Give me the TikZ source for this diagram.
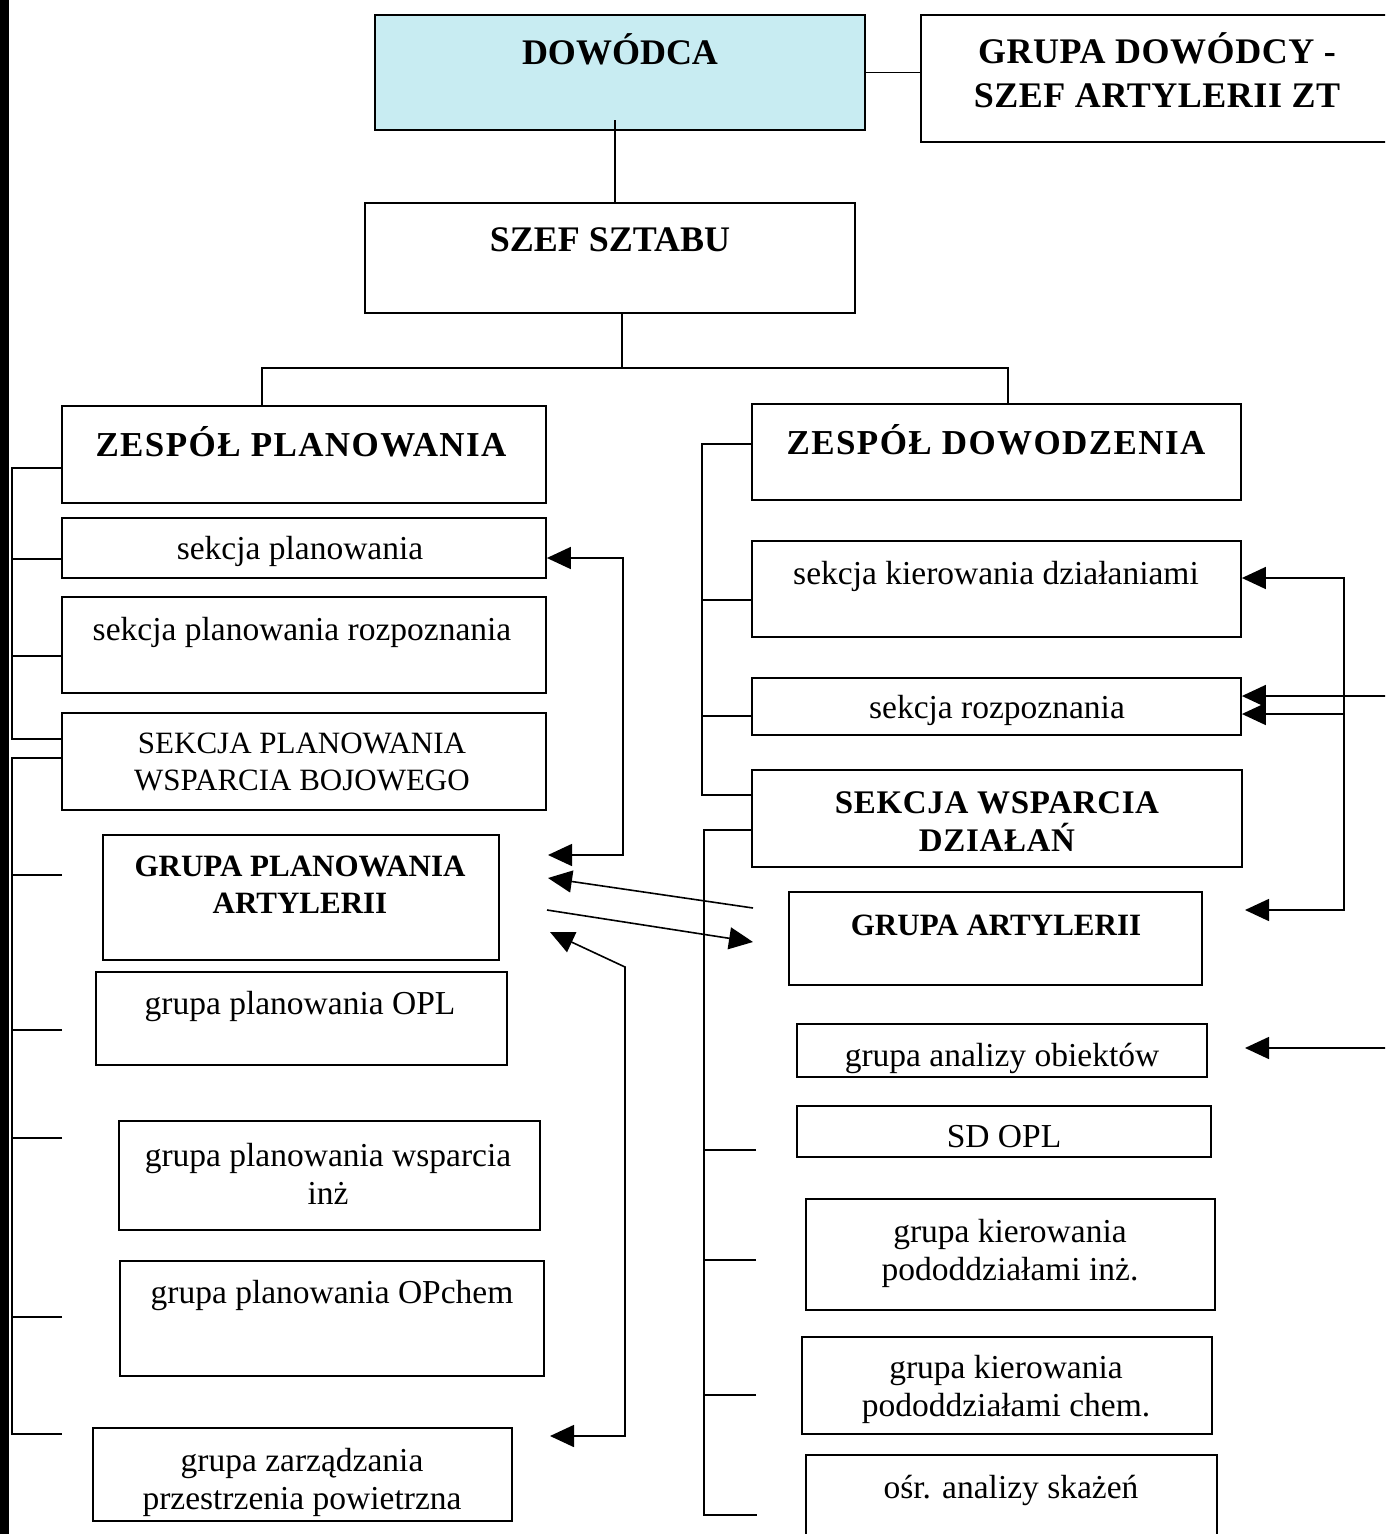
\documentclass[tikz,border=0pt]{standalone}
\usepackage{fontspec}
\setmainfont{Liberation Serif}
\usetikzlibrary{arrows.meta,fit}
\definecolor{headfill}{HTML}{C8ECF2}
\tikzset{
  frame/.style={draw, line width=1.8pt, inner sep=0pt},
  conn/.style={line width=1.6pt},
  tip/.tip={Triangle[length=24pt,width=22pt]},
  arr/.style={conn, -tip},
  arr2/.style={conn, tip-tip},
  tbig/.style={font=\fontsize{36}{44}\selectfont\bfseries, align=center, inner sep=0pt},
  tmid/.style={font=\fontsize{35}{42}\selectfont\bfseries\addfontfeature{LetterSpace=4}, align=center, inner sep=0pt},
  tgrp/.style={font=\fontsize{31}{37}\selectfont\bfseries, align=center, inner sep=0pt},
  treg/.style={font=\fontsize{33.5}{38}\selectfont, align=center, inner sep=0pt},
  tcap/.style={font=\fontsize{31}{37}\selectfont, align=center, inner sep=0pt},
}
\begin{document}
\begin{tikzpicture}[x=1pt,y=-1pt]
\useasboundingbox (0,0) rectangle (1385,1534);
\clip (0,0) rectangle (1385,1534);
\fill[white] (0,0) rectangle (1385,1534);
% dark scan edge on the left
\fill[black] (0,0) rectangle (9,1534);

% ---------- top level ----------
\node[frame, fill=headfill, fit={(375,15)(865,130)}] (dow) {};
\node[tbig] (dowt) at (620,49) {DOWÓDCA};
\node[frame, fit={(921,15)(1400,142)}] (gdc) {};
\node[tbig, font=\fontsize{36}{44}\selectfont\bfseries\addfontfeature{LetterSpace=1.5}] (gdct) at (1157,70) {GRUPA DOWÓDCY -\\SZEF ARTYLERII ZT};
\node[frame, fit={(365,203)(855,313)}] (ssz) {};
\node[tbig] (sszt) at (610,240) {SZEF SZTABU};

% ---------- planning team (left) ----------
\node[frame, fit={(62,406)(546,503)}] (zp) {};
\node[tmid] (zpt) at (301,442) {ZESPÓŁ PLANOWANIA};
\node[frame, fit={(62,518)(546,578)}] (sp) {};
\node[treg] (spt) at (300,551) {sekcja planowania};
\node[frame, fit={(62,597)(546,693)}] (spr) {};
\node[treg] (sprt) at (302,632) {sekcja planowania rozpoznania};
\node[frame, fit={(62,713)(546,810)}] (spw) {};
\node[tcap] (spwt) at (302,762) {SEKCJA PLANOWANIA\\WSPARCIA BOJOWEGO};
\node[frame, fit={(103,835)(499,960)}] (gpa) {};
\node[tgrp] (gpat) at (300,885) {GRUPA PLANOWANIA\\ARTYLERII};
\node[frame, fit={(96,972)(507,1065)}] (gpo) {};
\node[treg] (gpot) at (300,1006) {grupa planowania OPL};
\node[frame, fit={(119,1121)(540,1230)}] (gpw) {};
\node[treg] (gpwt) at (328,1174) {grupa planowania wsparcia\\inż};
\node[frame, fit={(120,1261)(544,1376)}] (gpc) {};
\node[treg] (gpct) at (332,1295) {grupa planowania OPchem};
\node[frame, fit={(93,1428)(512,1521)}] (gzp) {};
\node[treg] (gzpt) at (302,1482) {grupa zarządzania\\przestrzenia powietrzna};

% ---------- command team (right) ----------
\node[frame, fit={(752,404)(1241,500)}] (zd) {};
\node[tmid] (zdt) at (996,440) {ZESPÓŁ DOWODZENIA};
\node[frame, fit={(752,541)(1241,637)}] (skd) {};
\node[treg] (skdt) at (996,576) {sekcja kierowania działaniami};
\node[frame, fit={(752,678)(1241,735)}] (sr) {};
\node[treg] (srt) at (997,710) {sekcja rozpoznania};
\node[frame, fit={(752,770)(1242,867)}] (swd) {};
\node[font=\fontsize{33}{38}\selectfont\bfseries\addfontfeature{LetterSpace=2}, align=center, inner sep=0pt] (swdt) at (997,822) {SEKCJA WSPARCIA\\DZIAŁAŃ};
\node[frame, fit={(789,892)(1202,985)}] (ga) {};
\node[tgrp] (gat) at (996,925) {GRUPA ARTYLERII};
\node[frame, fit={(797,1024)(1207,1077)}] (gao) {};
\node[treg] (gaot) at (1002,1058) {grupa analizy obiektów};
\node[frame, fit={(797,1106)(1211,1157)}] (sdo) {};
\node[treg] (sdot) at (1004,1137) {SD OPL};
\node[frame, fit={(806,1199)(1215,1310)}] (gki) {};
\node[treg] (gkit) at (1010,1253) {grupa kierowania\\pododdziałami inż.};
\node[frame, fit={(802,1337)(1212,1434)}] (gkc) {};
\node[treg] (gkct) at (1006,1389) {grupa kierowania\\pododdziałami chem.};
\node[frame, fit={(806,1455)(1217,1560)}] (oas) {};
\node[treg] (oast) at (1011,1490) {ośr. analizy skażeń};

% ---------- hierarchy lines ----------
\coordinate (d1) at (615,120);
\draw[conn] (d1) -- (d1 |- ssz.north);
\draw[conn] (dow.east) -- (gdc.west |- dow.east);
\coordinate (s1) at (622,368);
\coordinate (hL) at (262,368);
\coordinate (hR) at (1008,368);
\draw[conn] (s1 |- ssz.south) -- (s1);
\draw[conn] (hL |- zp.north) -- (hL) -- (hR) -- (hR |- zd.north);

% left bracket: planning sections
\coordinate (b1t) at (12,468);
\coordinate (b1a) at (12,559);
\coordinate (b1c) at (12,656);
\coordinate (b1b) at (12,739);
\draw[conn] (zp.west |- b1t) -- (b1t) -- (b1b) -- (spw.west |- b1b);
\draw[conn] (b1a) -- (sp.west |- b1a);
\draw[conn] (b1c) -- (spr.west |- b1c);

% left bracket: planning groups
\coordinate (b2t) at (12,758);
\coordinate (b2b) at (12,1434);
\coordinate (l2a) at (62,875);
\coordinate (l2b) at (62,1030);
\coordinate (l2c) at (62,1138);
\coordinate (l2d) at (62,1317);
\coordinate (l2e) at (62,1434);
\draw[conn] (spw.west |- b2t) -- (b2t) -- (b2b) -- (l2e);
\foreach \c in {l2a,l2b,l2c,l2d} \draw[conn] (\c) -- (b2t |- \c);

% right bracket: command sections
\coordinate (b3t) at (702,444);
\coordinate (b3a) at (702,600);
\coordinate (b3c) at (702,716);
\coordinate (b3b) at (702,795);
\draw[conn] (zd.west |- b3t) -- (b3t) -- (b3b) -- (swd.west |- b3b);
\draw[conn] (b3a) -- (skd.west |- b3a);
\draw[conn] (b3c) -- (sr.west |- b3c);

% right bracket: support groups
\coordinate (b4t) at (704,830);
\coordinate (b4b) at (704,1515);
\coordinate (r4a) at (756,1150);
\coordinate (r4b) at (756,1260);
\coordinate (r4c) at (756,1395);
\coordinate (r4d) at (757,1515);
\draw[conn] (swd.west |- b4t) -- (b4t) -- (b4b) -- (r4d);
\foreach \c in {r4a,r4b,r4c} \draw[conn] (\c) -- (b4t |- \c);

% ---------- information flows ----------
\coordinate (aV1) at (623,558);
\coordinate (aV2) at (623,855);
\coordinate (aT2) at (548,855);
\draw[arr2] (sp.east |- aV1) -- (aV1) -- (aV2) -- (aT2);

\coordinate (bS) at (753,908);
\coordinate (bT) at (548,878);
\draw[arr] (bS) -- (bT);
\coordinate (cS) at (547,910);
\coordinate (cT) at (753,942);
\draw[arr] (cS) -- (cT);

\coordinate (dT1) at (550,932);
\coordinate (dK) at (625,967);
\coordinate (dB) at (625,1436);
\coordinate (dT2) at (550,1436);
\draw[arr2] (dT1) -- (dK) -- (dB) -- (dT2);

\coordinate (eV1) at (1344,578);
\coordinate (eV2) at (1344,910);
\coordinate (eT2) at (1245,910);
\draw[arr2] (skd.east |- eV1) -- (eV1) -- (eV2) -- (eT2);
\coordinate (fS) at (1390,696);
\draw[arr] (fS) -- (sr.east |- fS);
\coordinate (gS) at (1344,714);
\draw[arr] (gS) -- (sr.east |- gS);
\coordinate (hS) at (1390,1048);
\coordinate (hT) at (1245,1048);
\draw[arr] (hS) -- (hT);
\end{tikzpicture}
\end{document}
